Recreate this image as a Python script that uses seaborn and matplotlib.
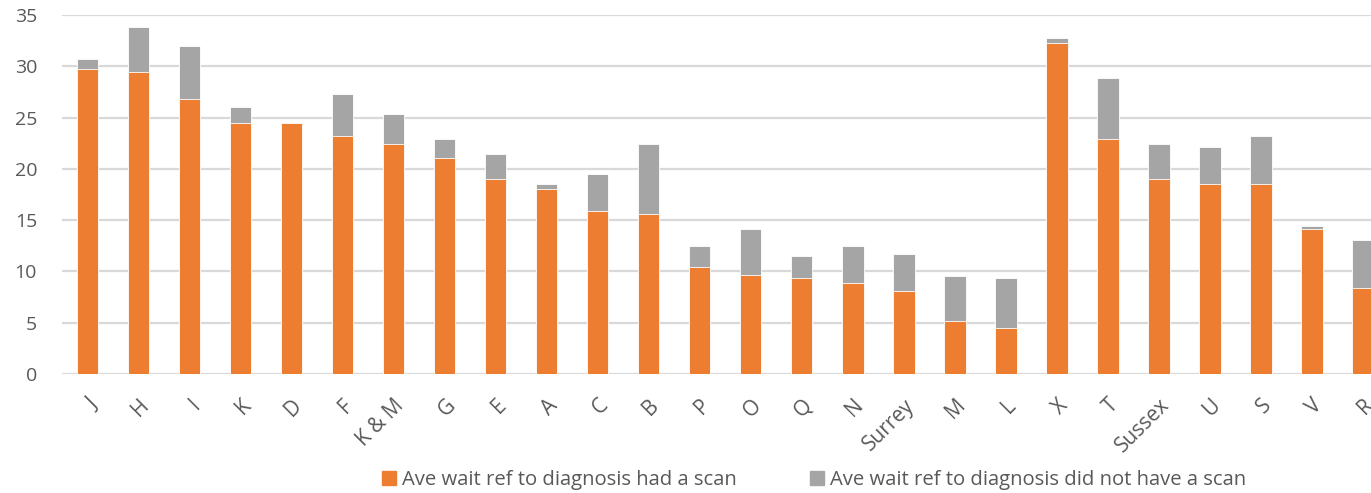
import matplotlib
matplotlib.use("Agg")
import matplotlib.pyplot as plt
from matplotlib.patches import Patch
import seaborn as sns
import pandas as pd

# chart data
regions = ["J", "H", "I", "K", "D", "F", "K & M", "G", "E", "A", "C", "B", "P",
           "O", "Q", "N", "Surrey", "M", "L", "X", "T", "Sussex", "U", "S", "V", "R"]
had_scan = [29.7, 29.4, 26.8, 24.5, 24.5, 23.2, 22.4, 21.1, 19.0, 18.0, 15.9, 15.6, 10.4,
            9.7, 9.4, 8.9, 8.1, 5.2, 4.5, 32.3, 22.9, 19.0, 18.5, 18.5, 14.1, 8.4]
no_scan = [1.0, 4.4, 5.2, 1.5, 0.0, 4.1, 2.9, 1.8, 2.4, 0.5, 3.6, 6.8, 2.1,
           4.4, 2.1, 3.6, 3.6, 4.4, 4.9, 0.5, 6.0, 3.4, 3.6, 4.7, 0.3, 4.7]

label_had = "Ave wait ref to diagnosis had a scan"
label_no = "Ave wait ref to diagnosis did not have a scan"
orange = "#ED7D31"
grey = "#A5A5A5"
text_col = "#595959"

df = pd.DataFrame({"region": regions, "had": had_scan, "no": no_scan})
df["total"] = df["had"] + df["no"]

sns.set_style("white")
plt.rcParams["font.family"] = ["Open Sans", "DejaVu Sans"]

fig = plt.figure(figsize=(13.71, 4.93), dpi=100)
ax = fig.add_axes([62 / 1371, 119 / 493, 1326.5 / 1371, 359 / 493])

# grey = total height, orange drawn over it from zero
sns.barplot(data=df, x="region", y="total", color=grey, width=0.42,
            saturation=1, edgecolor="white", linewidth=0.6, ax=ax, zorder=3)
sns.barplot(data=df, x="region", y="had", color=orange, width=0.42,
            saturation=1, edgecolor="white", linewidth=0.6, ax=ax, zorder=4)

ax.set_xlim(-0.5, len(regions) - 0.5)
ax.set_ylim(0, 35)
ax.set_yticks(range(0, 36, 5))
ax.yaxis.grid(True, color="#D9D9D9", linewidth=1.6, zorder=0)
ax.set_axisbelow(True)
for s in ax.spines.values():
    s.set_visible(False)
ax.set_xlabel("")
ax.set_ylabel("")
ax.tick_params(axis="both", length=0, colors=text_col, labelsize=14)
ax.tick_params(axis="x", labelsize=15, pad=15)
ax.tick_params(axis="y", pad=18)
plt.setp(ax.get_xticklabels(), rotation=45, ha="right", rotation_mode="anchor")

handles = [Patch(color=orange, label=label_had), Patch(color=grey, label=label_no)]
fig.legend(handles=handles, loc="center", bbox_to_anchor=(814 / 1371, 13 / 493),
           ncol=2, frameon=False, fontsize=14.6, labelcolor=text_col,
           handlelength=0.7, handleheight=0.7, handletextpad=0.3, columnspacing=3.6)

fig.savefig("out.png", dpi=100)
